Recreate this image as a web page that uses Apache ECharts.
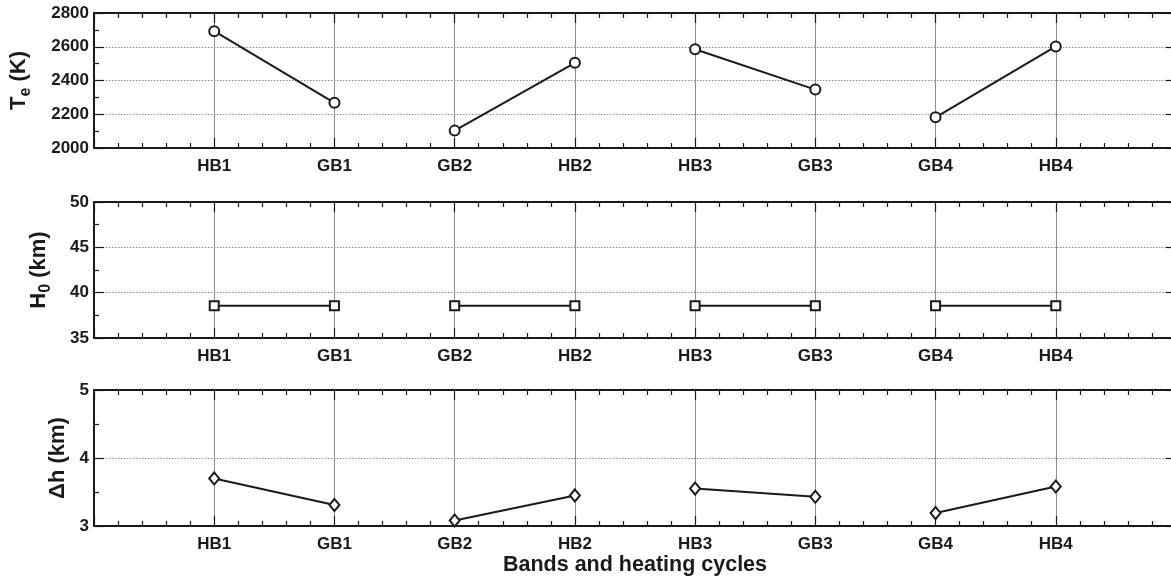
<!DOCTYPE html>
<html><head><meta charset="utf-8">
<script src="https://cdn.jsdelivr.net/npm/echarts@6/dist/echarts.min.js"></script>
<style>html,body{margin:0;padding:0;background:#fff;overflow:hidden}#c{width:1190px;height:581px}</style>
</head><body><div id="c"></div>
<script>
const categories = ['HB1','GB1','GB2','HB2','HB3','GB3','GB4','HB4'];
const teValues = [2692, 2268, 2103, 2505, 2585, 2346, 2182, 2602];
const h0Values = [38.55, 38.55, 38.55, 38.55, 38.55, 38.55, 38.55, 38.55];
const dhValues = [3.70, 3.31, 3.08, 3.45, 3.55, 3.43, 3.19, 3.58];
const pairs = [[0,1],[2,3],[4,5],[6,7]];
const xAxisTitle = 'Bands and heating cycles';

const FONT = 'Liberation Sans';
const INK = '#1a1a1a';
const panels = [
  {vals: teValues, min: 2000, max: 2800, interval: 200, top: 13, height: 135, symbol: 'circle', size: 10,
   name: '{a|T}{s|e}{a| (K)}', gap: 60},
  {vals: h0Values, min: 35, max: 50, interval: 5, top: 202, height: 136, symbol: 'rect', size: 9,
   name: '{a|H}{s|0}{a| (km)}', gap: 40},
  {vals: dhValues, min: 3, max: 5, interval: 1, top: 390, height: 136, symbol: 'diamond', size: [10, 12],
   name: '{a|Δh (km)}', gap: 21}
];
const grids = [], xAxes = [], yAxes = [], series = [];
const tickLS = {color: INK, width: 1.2};
panels.forEach((p, i) => {
  grids.push({left: 94, width: 1082, top: p.top, height: p.height, containLabel: false});
  const baseX = {
    type: 'value', gridIndex: i, min: 0, max: 9, interval: 1,
    axisLine: {show: true, onZero: false, lineStyle: {color: INK, width: 2}},
    axisTick: {show: true, inside: true, length: 10, lineStyle: tickLS},
    minorTick: {show: true, splitNumber: 5, length: 5, lineStyle: tickLS},
    splitLine: {show: false}
  };
  xAxes.push(Object.assign({}, baseX, {
    position: 'bottom',
    axisLabel: {show: true, margin: 10, color: INK, fontFamily: FONT, fontWeight: 'bold', fontSize: 17,
      formatter: v => categories[v - 1] || ''},
    splitLine: {show: true, lineStyle: {color: '#8f8f8f', width: 1}},
    name: i === 2 ? xAxisTitle : '', nameLocation: 'middle', nameGap: 28,
    nameTextStyle: {color: INK, fontFamily: FONT, fontWeight: 'bold', fontSize: 21.5}
  }));
  xAxes.push(Object.assign({}, baseX, {position: 'top', axisLabel: {show: false}}));
  const baseY = {
    type: 'value', gridIndex: i, min: p.min, max: p.max, interval: p.interval,
    axisLine: {show: true, onZero: false, lineStyle: {color: INK, width: 2}},
    axisTick: {show: true, inside: true, length: 10, lineStyle: tickLS},
    minorTick: {show: true, splitNumber: 2, length: 5, lineStyle: tickLS},
    splitLine: {show: false}
  };
  yAxes.push(Object.assign({}, baseY, {
    position: 'left',
    axisLabel: {show: true, margin: 5, color: INK, fontFamily: FONT, fontWeight: 'bold', fontSize: 17,
      formatter: v => String(v)},
    splitLine: {show: true, lineStyle: {color: '#8a8a8a', width: 1, type: [1.5, 1.5]}},
    name: p.name, nameLocation: 'middle', nameGap: p.gap, nameRotate: 90,
    nameTextStyle: {color: INK, fontFamily: FONT, fontWeight: 'bold', fontSize: 22,
      rich: {
        a: {color: INK, fontFamily: FONT, fontWeight: 'bold', fontSize: 22},
        s: {color: INK, fontFamily: FONT, fontWeight: 'bold', fontSize: 16, padding: [14, 0, 0, 0]}
      }}
  }));
  yAxes.push(Object.assign({}, baseY, {position: 'right', axisLabel: {show: false}}));
  pairs.forEach(pr => {
    series.push({
      type: 'line', xAxisIndex: i * 2, yAxisIndex: i * 2,
      data: pr.map(k => [k + 1, p.vals[k]]),
      symbol: p.symbol, symbolSize: p.size, showSymbol: true,
      lineStyle: {color: INK, width: 2},
      itemStyle: {color: '#fff', borderColor: INK, borderWidth: 2},
      emphasis: {disabled: true}, animation: false, z: 5
    });
  });
});
const chart = echarts.init(document.getElementById('c'), null, {renderer: 'canvas'});
chart.setOption({animation: false, backgroundColor: '#fff', grid: grids, xAxis: xAxes, yAxis: yAxes, series: series});
</script></body></html>
